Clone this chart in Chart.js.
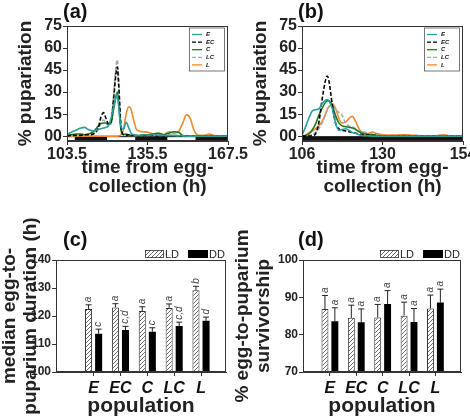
<!DOCTYPE html>
<html lang="en">
<head>
<meta charset="UTF-8" />
<title>Pupariation timing and survivorship</title>
<script src="https://cdn.jsdelivr.net/npm/chart.js"></script>
<style>
  body { margin: 0; background: #fff; }
  #fig { position: relative; width: 470px; height: 417px; overflow: hidden; }
  #fig canvas { position: absolute; }
</style>
</head>
<body>
<div id="fig">
  <canvas id="chartA" width="250" height="205" style="left:0;top:0"></canvas>
  <canvas id="chartB" width="235" height="205" style="left:235px;top:0"></canvas>
  <canvas id="chartC" width="235" height="212" style="left:0;top:205px"></canvas>
  <canvas id="chartD" width="235" height="212" style="left:235px;top:205px"></canvas>
</div>
<script>
const FONT = "'Liberation Sans', Arial, sans-serif";
Chart.defaults.font.family = FONT;
Chart.defaults.color = '#222';

// populations
const popNames = ['E', 'EC', 'C', 'LC', 'L'];
const popColors = ['#2a9ea3', '#000000', '#1d7a1d', '#a8a8a8', '#f0892c'];
const popDash = [[], [4, 2], [], [4, 2], []];

// (a) LD - % pupariation over time
const timeA = [103.5, 105, 107, 109, 110.5, 112, 114, 116, 117, 118, 119, 120, 121, 122, 123, 123.5, 124, 125, 126, 127, 128, 129, 130, 131, 132, 134, 136, 138, 140, 142, 144, 146, 148, 149.5, 151, 152.5, 154, 156, 158, 160, 162, 164, 167.5];
const eA  = [1, 2.5, 4, 5.5, 6, 4.5, 3.5, 4.5, 5, 5.5, 6, 7, 12, 20, 27, 28, 21, 6, 5, 9.5, 6, 2, 1, 0.5, 0.5, 1, 0.5, 1, 0.5, 0.5, 0.3, 0.5, 0.3, 0.2, 0, 0, 0, 0, 0, 0, 0, 0, 0];
const ecA = [0, 0.5, 0.5, 0.5, 1, 1, 1.5, 6, 13, 16, 12, 8.5, 10, 25, 43, 47, 36, 6, 1, 0.5, 1, 0.5, 0.5, 0.3, 0.3, 0.5, 0.3, 0.5, 0.3, 0.2, 0.2, 0.3, 0.2, 0, 0, 0, 0, 0, 0, 0, 0, 0, 0];
const cA  = [0.5, 1, 1.5, 1.5, 1, 1.5, 3, 7, 8.5, 9, 9, 8, 9, 18, 27, 30, 23, 4, 1, 1.5, 1, 0.5, 0.5, 0.5, 0.3, 0.5, 1, 1.5, 2, 1, 2, 3, 2.5, 0.5, 0.3, 0, 0, 0, 0, 0, 0, 0, 0];
const lcA = [0, 0.5, 0.5, 1, 1, 1.5, 2, 5, 9, 11, 9, 7, 9, 27, 48, 52, 40, 5, 1, 1, 0.5, 0.5, 0.3, 0.3, 0.3, 0.5, 0.5, 0.5, 1, 0.5, 1, 0.5, 0.3, 0, 0, 0, 0, 0, 0, 0, 0, 0, 0];
const lA  = [0, 0, 0, 0, 0, 0, 0, 0, 0, 0, 0, 0, 0, 0, 0, 0, 0.2, 1, 5, 15, 20, 18, 11, 5, 3.5, 3, 2.5, 1.5, 2, 1, 3, 2, 3.5, 9, 14.5, 12, 4, 0.5, 0.5, 1.5, 0.5, 0, 0];
const lightOnA = [103.5, 119, 143];
const lightOffA = [107, 131, 155];
const hourTicksA = [103.5, 135.5, 167.5];

// (b) DD - % pupariation over time
const timeB = [106, 107, 108, 109, 110, 111, 112, 113, 113.5, 114, 115, 116, 117, 118, 119, 120, 121, 122, 123, 124, 125, 126, 127, 128, 129, 130, 132, 134, 136, 138, 140, 142, 144, 146, 148, 150, 151, 152, 154];
const eB  = [0.5, 6, 12, 17, 18, 18.5, 22, 24.5, 25, 24, 19, 9, 4, 4.5, 5, 4, 2.5, 2, 1, 0.5, 0.3, 0.2, 0, 0, 0, 0, 0, 0, 0, 0, 0, 0, 0, 0, 0, 0, 0, 0, 0];
const ecB = [0, 0, 0, 0.3, 1.5, 9, 25, 38, 41, 38, 22, 9, 5, 4, 3.5, 3, 2.5, 2, 1.5, 1, 0.8, 0.5, 0.5, 0.5, 0.3, 0.2, 0, 0, 0, 0, 0, 0, 0, 0, 0, 0, 0, 0, 0];
const cB  = [0, 0.5, 1.5, 4, 8, 14, 19, 23, 24, 24, 21, 14, 9, 7, 6.5, 6, 5.5, 4.5, 3, 2, 1.5, 1, 0.8, 0.5, 0.3, 0.2, 0, 0, 0, 0, 0, 0, 0, 0, 0, 0, 0, 0, 0];
const lcB = [0, 0, 0.5, 1, 2.5, 5, 9, 15, 18, 20, 21, 18, 16, 14, 9, 7, 6.5, 5, 3.5, 3, 2.5, 2, 1.5, 1, 0.5, 0.3, 0, 0, 0, 0, 0, 0, 0, 0, 0, 0, 0, 0, 0];
const lB  = [0, 0.5, 2, 3.5, 5, 7, 10, 15, 18, 20, 22, 19, 12, 9, 9.5, 12, 13.5, 10, 5, 2.5, 1.8, 2, 2.8, 2, 1.5, 1, 0.7, 0.7, 1, 0.8, 0.5, 0.2, 0, 0.3, 1, 0.3, 0, 0, 0];
const lightOnB = [];
const lightOffB = [];
const hourTicksB = [106, 130, 154];

const pctTicks = [0, 15, 30, 45, 60, 75];

// (c) median egg-to-puparium duration (h)
const durLD = [122.5, 123.0, 121.8, 122.9, 129.2];
const durLDerr = [1.5, 1.4, 1.5, 1.4, 1.4];
const durDD = [113.7, 115.0, 114.4, 116.4, 118.3];
const durDDerr = [1.6, 1.3, 1.4, 1.4, 1.3];
const durLDsig = ['a', 'a', 'a', 'a', 'b'];
const durDDsig = ['c', 'c,d', 'c', 'c,d', 'd'];
const durTicks = [100, 110, 120, 130, 140];

// (d) % egg-to-puparium survivorship
const survLD = [86.9, 84.5, 84.6, 85.1, 87.0];
const survLDerr = [3.6, 3.4, 3.5, 3.6, 3.6];
const survDD = [83.6, 83.3, 88.2, 83.4, 88.6];
const survDDerr = [3.6, 3.6, 3.6, 3.6, 3.6];
const survLDsig = ['a', 'a', 'a', 'a', 'a'];
const survDDsig = ['a', 'a', 'a', 'a', 'a'];
const survTicks = [70, 80, 90, 100];

const popIdx = [0, 1, 2, 3, 4];

function hatch() {
  const c = document.createElement('canvas');
  c.width = 4; c.height = 4;
  const g = c.getContext('2d');
  g.fillStyle = '#fff';
  g.fillRect(0, 0, 4, 4);
  g.strokeStyle = '#6a6a6a';
  g.lineWidth = 1;
  g.beginPath();
  g.moveTo(0, 4); g.lineTo(4, 0);
  g.moveTo(-1, 1); g.lineTo(1, -1);
  g.moveTo(3, 5); g.lineTo(5, 3);
  g.stroke();
  return g.createPattern(c, 'repeat');
}
const HATCH = hatch();

// frame round the plot + panel letter
const frame = {
  id: 'frame',
  afterDraw(chart, args, opts) {
    const { ctx, chartArea: a } = chart;
    ctx.save();
    ctx.strokeStyle = '#333';
    ctx.lineWidth = 1;
    ctx.strokeRect(Math.round(a.left) + 0.5, Math.round(a.top) + 0.5, Math.round(a.width) - 1, Math.round(a.height) - 1);
    ctx.fillStyle = '#111';
    ctx.font = 'bold 20px ' + FONT;
    ctx.textBaseline = 'middle';
    ctx.fillText(opts.text, a.left + opts.dx, a.top + opts.dy);
    ctx.restore();
  }
};

// light/dark bar under the zero line
const photoBar = {
  id: 'photoBar',
  beforeDatasetsDraw(chart, args, opts) {
    const { ctx, scales: { x, y } } = chart;
    const top = y.getPixelForValue(0), bottom = y.getPixelForValue(y.min);
    ctx.save();
    ctx.fillStyle = '#111';
    ctx.fillRect(x.left, top, x.width, bottom - top);
    ctx.fillStyle = '#fff';
    opts.on.forEach((t, i) => {
      const x0 = x.getPixelForValue(t), x1 = x.getPixelForValue(opts.off[i]);
      ctx.fillRect(x0 + 1, top + 1, x1 - x0 - 2, bottom - top - 2);
    });
    ctx.restore();
  }
};

const lineLegend = {
  id: 'lineLegend',
  afterDatasetsDraw(chart) {
    const { ctx, chartArea: a } = chart;
    const w = 35, h = 43, x = a.right - 39, y = a.top + 1.5;
    ctx.save();
    ctx.fillStyle = '#fff';
    ctx.fillRect(x, y, w, h);
    ctx.strokeStyle = '#555';
    ctx.lineWidth = 0.8;
    ctx.strokeRect(x + 0.5, y + 0.5, w, h);
    chart.data.datasets.forEach((ds, i) => {
      const yy = y + 7 + i * 7.6;
      ctx.strokeStyle = ds.borderColor;
      ctx.lineWidth = 1.3;
      ctx.setLineDash(ds.borderDash);
      ctx.beginPath();
      ctx.moveTo(x + 3, yy);
      ctx.lineTo(x + 13, yy);
      ctx.stroke();
      ctx.setLineDash([]);
      ctx.fillStyle = '#111';
      ctx.font = 'italic bold 6px ' + FONT;
      ctx.textBaseline = 'middle';
      ctx.fillText(ds.label, x + 17, yy);
    });
    ctx.restore();
  }
};

const errorBars = {
  id: 'errorBars',
  afterDatasetsDraw(chart) {
    const { ctx, scales: { y } } = chart;
    ctx.save();
    chart.data.datasets.forEach((ds, i) => {
      const meta = chart.getDatasetMeta(i);
      meta.data.forEach((bar, j) => {
        const top = y.getPixelForValue(ds.data[j].y + ds.errors[j]);
        ctx.strokeStyle = '#222';
        ctx.lineWidth = 1;
        ctx.beginPath();
        ctx.moveTo(bar.x, bar.y);
        ctx.lineTo(bar.x, top);
        ctx.moveTo(bar.x - 3, top);
        ctx.lineTo(bar.x + 3, top);
        ctx.stroke();
        ctx.save();
        ctx.translate(bar.x, top - 2.5);
        ctx.rotate(-Math.PI / 2);
        ctx.fillStyle = '#444';
        ctx.font = 'italic 10px ' + FONT;
        ctx.textAlign = 'left';
        ctx.textBaseline = 'middle';
        ctx.fillText(ds.letters[j], 0, 0);
        ctx.restore();
      });
    });
    ctx.restore();
  }
};

const barLegend = {
  id: 'barLegend',
  afterDraw(chart) {
    const { ctx, chartArea: a } = chart;
    const y = a.top - 10;
    ctx.save();
    ctx.fillStyle = HATCH;
    ctx.fillRect(a.right - 81, y, 19, 8);
    ctx.strokeStyle = '#333';
    ctx.lineWidth = 0.8;
    ctx.strokeRect(a.right - 81 + 0.5, y + 0.5, 18, 7);
    ctx.fillStyle = '#000';
    ctx.fillRect(a.right - 38, y, 20, 8);
    ctx.fillStyle = '#222';
    ctx.font = '11px ' + FONT;
    ctx.textBaseline = 'middle';
    ctx.fillText(chart.data.datasets[0].label, a.right - 61, y + 4.5);
    ctx.fillText(chart.data.datasets[1].label, a.right - 17, y + 4.5);
    ctx.restore();
  }
};

function lineSet(times, vals, i) {
  return {
    label: popNames[i],
    data: times.map((t, k) => ({ x: t, y: vals[k] })),
    borderColor: popColors[i],
    borderDash: popDash[i],
    borderWidth: 1.6,
    pointRadius: 0,
    fill: false,
    cubicInterpolationMode: 'monotone'
  };
}

function lineChart(id, times, series, hourTicks, on, off, panel, padRight) {
  new Chart(document.getElementById(id), {
    type: 'line',
    data: { datasets: series.map((vals, i) => lineSet(times, vals, i)) },
    options: {
      responsive: false,
      animation: false,
      events: [],
      layout: { padding: { top: 26, right: padRight, left: 0, bottom: 0 } },
      plugins: {
        legend: { display: false },
        tooltip: { enabled: false },
        frame: { text: panel, dx: -4, dy: -14 },
        photoBar: { on: on, off: off }
      },
      scales: {
        x: {
          type: 'linear',
          min: hourTicks[0],
          max: hourTicks[hourTicks.length - 1],
          afterBuildTicks: s => { s.ticks = hourTicks.map(v => ({ value: v })); },
          afterFit: s => { s.height = 64; s.paddingLeft = 0; s.paddingRight = 0; },
          grid: { drawOnChartArea: false, tickLength: 4, color: '#333' },
          border: { color: '#333' },
          ticks: { padding: 0, maxRotation: 0, color: '#222', font: { size: 16, weight: 'bold' }, callback: v => String(v) },
          title: {
            display: true,
            text: ['time from egg-', 'collection (h)'],
            color: '#222',
            font: { size: 19, weight: 'bold', lineHeight: 1.0 },
            padding: { top: 0, bottom: 8.5 }
          }
        },
        y: {
          min: -3.3,
          max: 75,
          afterBuildTicks: s => { s.ticks = pctTicks.map(v => ({ value: v })); },
          afterFit: s => { s.width = 67; s.paddingTop = 0; s.paddingBottom = 0; },
          grid: { drawOnChartArea: false, tickLength: 4, color: '#333' },
          border: { color: '#333' },
          ticks: { padding: 1, color: '#222', font: { size: 16, weight: 'bold' }, callback: v => String(v).padStart(2, '0') },
          title: {
            display: true,
            text: '% pupariation',
            color: '#222',
            font: { size: 19, weight: 'bold', lineHeight: 1.2 },
            padding: { top: 14.5, bottom: 0 }
          }
        }
      }
    },
    plugins: [photoBar, frame, lineLegend]
  });
}

function barChart(id, ld, ldErr, ldSig, dd, ddErr, ddSig, yTicks, yTitle, xMin, xMax, yWidth, titlePad, panel) {
  new Chart(document.getElementById(id), {
    type: 'bar',
    data: {
      datasets: [
        {
          label: 'LD',
          data: popIdx.map(j => ({ x: j, y: ld[j] })),
          errors: ldErr,
          letters: ldSig,
          backgroundColor: HATCH,
          borderColor: '#333',
          borderWidth: 1,
          categoryPercentage: 0.75,
          barPercentage: 0.7
        },
        {
          label: 'DD',
          data: popIdx.map(j => ({ x: j, y: dd[j] })),
          errors: ddErr,
          letters: ddSig,
          backgroundColor: '#000',
          borderWidth: 0,
          categoryPercentage: 0.75,
          barPercentage: 0.7
        }
      ]
    },
    options: {
      responsive: false,
      animation: false,
      events: [],
      layout: { padding: { top: 55, right: 9, left: 0, bottom: 0 } },
      plugins: {
        legend: { display: false },
        tooltip: { enabled: false },
        frame: { text: panel, dx: panel === '(c)' ? 7 : -5, dy: -20 }
      },
      scales: {
        x: {
          type: 'linear',
          min: xMin,
          max: xMax,
          offset: false,
          afterBuildTicks: s => { s.ticks = popIdx.map(v => ({ value: v })); },
          afterFit: s => { s.height = 45; s.paddingLeft = 0; s.paddingRight = 0; },
          grid: { drawOnChartArea: false, offset: false, tickLength: 4, color: '#333' },
          border: { color: '#333' },
          ticks: { padding: 3, maxRotation: 0, color: '#111', font: { size: 16, weight: 'bold', style: 'italic' }, callback: v => popNames[v] },
          title: {
            display: true,
            text: 'population',
            color: '#222',
            font: { size: 21, weight: 'bold', lineHeight: 1.0 },
            padding: { top: 0, bottom: 0 }
          }
        },
        y: {
          min: yTicks[0],
          max: yTicks[yTicks.length - 1],
          beginAtZero: false,
          afterBuildTicks: s => { s.ticks = yTicks.map(v => ({ value: v })); },
          afterFit: s => { s.width = yWidth; s.paddingTop = 0; s.paddingBottom = 0; },
          grid: { drawOnChartArea: false, tickLength: 4, color: '#333' },
          border: { color: '#333' },
          ticks: { padding: 1, color: '#222', font: { size: 12, weight: 'bold' } },
          title: {
            display: true,
            text: yTitle,
            color: '#222',
            font: { size: 19, weight: 'bold', lineHeight: 1.08 },
            padding: { top: titlePad, bottom: 0 }
          }
        }
      }
    },
    plugins: [frame, errorBars, barLegend]
  });
}

lineChart('chartA', timeA, [eA, ecA, cA, lcA, lA], hourTicksA, lightOnA, lightOffA, '(a)', 22);
lineChart('chartB', timeB, [eB, ecB, cB, lcB, lB], hourTicksB, lightOnB, lightOffB, '(b)', 7);
barChart('chartC', durLD, durLDerr, durLDsig, durDD, durDDerr, durDDsig, durTicks,
  ['median egg-to-', 'puparium duration (h)'], -1.4, 4.93, 56, 0, '(c)');
barChart('chartD', survLD, survLDerr, survLDsig, survDD, survDDerr, survDDsig, survTicks,
  ['% egg-to-puparium', 'survivorship'], -1.02, 4.97, 68, -2, '(d)');
</script>
</body>
</html>
